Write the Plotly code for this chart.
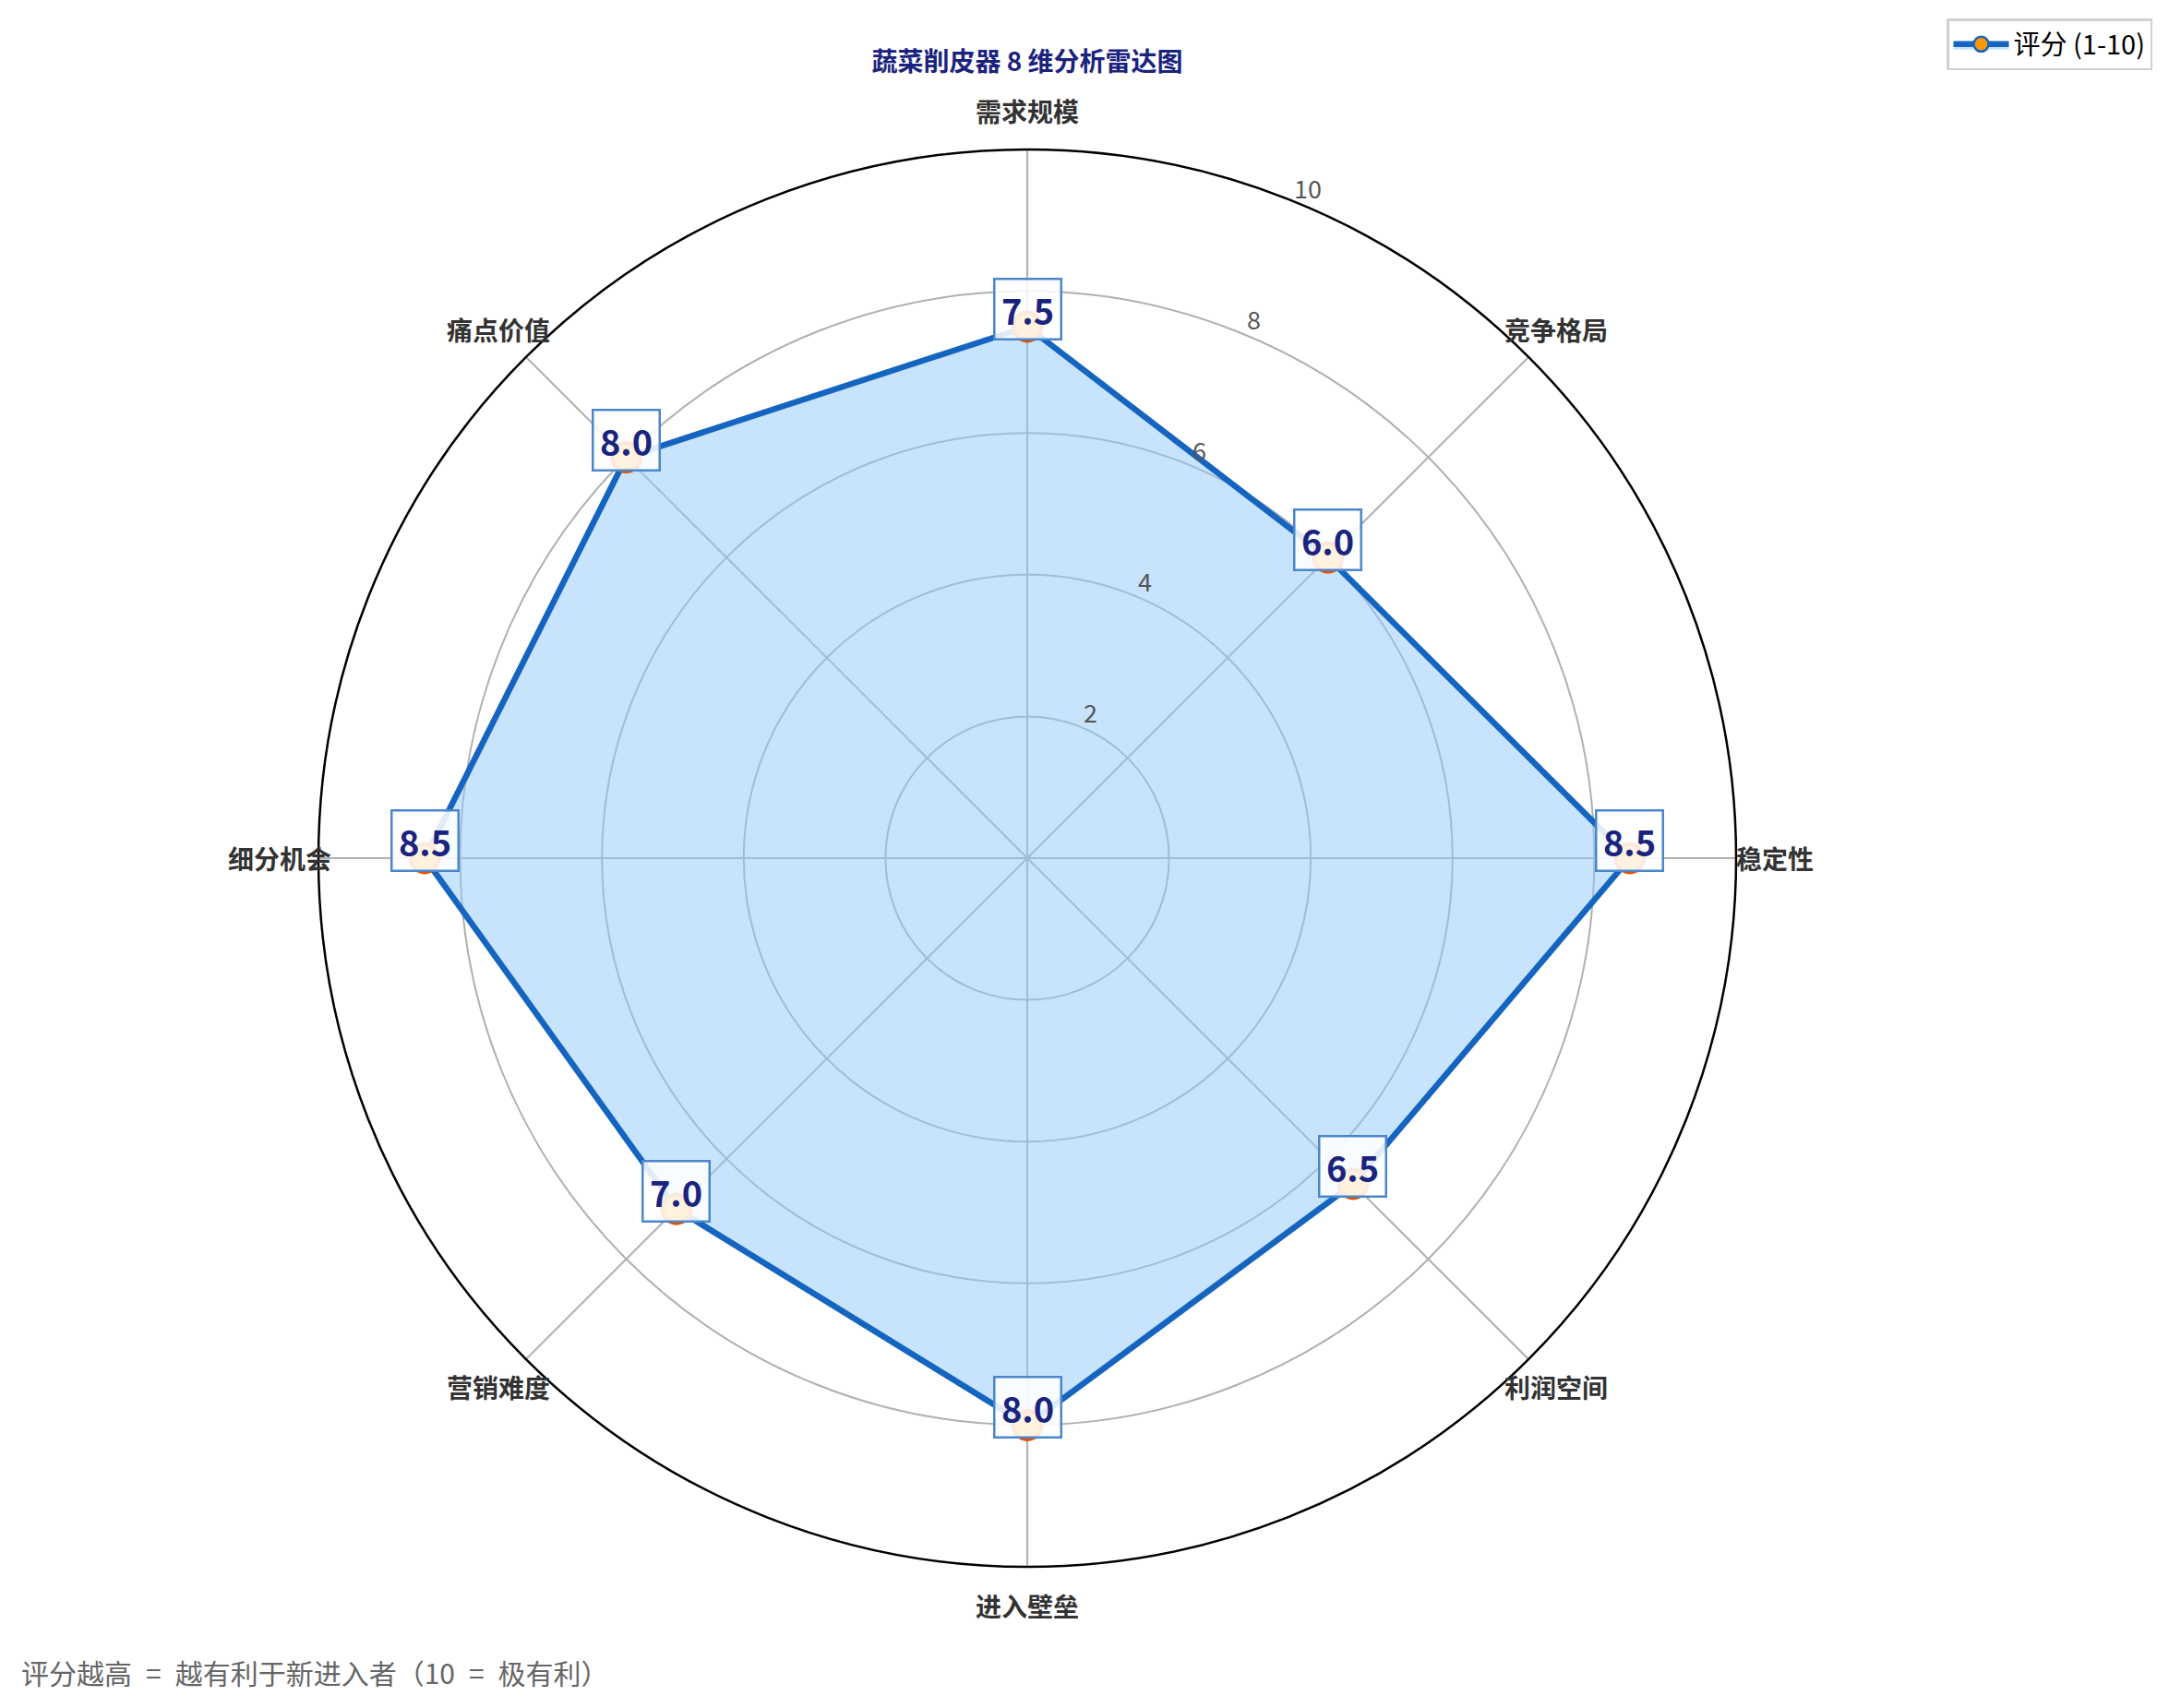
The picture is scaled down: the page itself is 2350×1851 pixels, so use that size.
import numpy as np
import plotly.graph_objects as go

# 8 个维度与评分
dimensions = ["需求规模", "竞争格局", "稳定性", "利润空间", "进入壁垒", "营销难度", "细分机会", "痛点价值"]
scores = [7.5, 6.0, 8.5, 6.5, 8.0, 7.0, 8.5, 8.0]
radial_ticks = [2, 4, 6, 8, 10]

title_text = "蔬菜削皮器 8 维分析雷达图"
legend_name = "评分 (1-10)"
note_text = "评分越高 = 越有利于新进入者（10 = 极有利）"

FONT = "Noto Sans CJK SC, Noto Sans, sans-serif"
W, H = 2350, 1851
OFF = 8                      # default <body> margin of the html page
FW, FH = W - 2 * OFF, H - 2 * OFF


def px_x(x):
    return (x - OFF) / FW


def px_y(y):
    return 1 - (y - OFF) / FH


# polar area: circle centred at (1113, 930) px on the page, radius 768 px
CX, CY, R = 1113, 930, 768
dom_x = [px_x(CX - R), px_x(CX + R)]
dom_y = [px_y(CY + R), px_y(CY - R)]

# cartesian overlay (same centre and scale, a bit wider so outer labels stay in range)
EXT = 11.5
ov_x = [px_x(CX - R * EXT / 10), px_x(CX + R * EXT / 10)]
ov_y = [px_y(CY + R * EXT / 10), px_y(CY - R * EXT / 10)]

theta_closed = dimensions + [dimensions[0]]
r_closed = scores + [scores[0]]

fig = go.Figure()

# filled polygon + legend entry
fig.add_trace(go.Scatterpolar(
    r=r_closed, theta=theta_closed, mode="lines+markers",
    fill="toself", fillcolor="rgba(144,202,249,0.5)",
    line=dict(color="#1565c0", width=6.5),
    marker=dict(size=16, color="#ff9800", line=dict(color="#1565c0", width=2.5)),
    name=legend_name, hoverinfo="skip",
))

# emphasised points on top
fig.add_trace(go.Scatterpolar(
    r=scores, theta=dimensions, mode="markers",
    marker=dict(size=31, color="#ff9800", line=dict(color="#e65100", width=4)),
    showlegend=False, hoverinfo="skip",
))

# invisible cartesian overlay used to place the texts
fig.add_trace(go.Scatter(x=[None], y=[None], xaxis="x", yaxis="y",
                         showlegend=False, hoverinfo="skip"))

angles = np.deg2rad(90 - np.arange(len(dimensions)) * 360 / len(dimensions))

# value boxes
for v, a in zip(scores, angles):
    fig.add_annotation(
        x=v * np.cos(a), y=v * np.sin(a), xref="x", yref="y",
        text=f"\u200a<b>{v:.1f}</b>\u200a", showarrow=False, yshift=19,
        font=dict(family=FONT, size=38, color="#1a237e"),
        bgcolor="rgba(255,255,255,0.87)", bordercolor="#4a86cc",
        borderwidth=2.5, borderpad=4,
    )

# category labels just outside the outer ring
for name, a in zip(dimensions, angles):
    fig.add_annotation(
        x=10.55 * np.cos(a), y=10.55 * np.sin(a), xref="x", yref="y",
        text=f"<b>{name}</b>", showarrow=False,
        font=dict(family=FONT, size=28, color="#333333"),
    )

# radial tick labels along the 67.5 degree direction
ra = np.deg2rad(67.5)
for t in radial_ticks:
    fig.add_annotation(
        x=t * np.cos(ra), y=t * np.sin(ra), xref="x", yref="y",
        text=str(t), showarrow=False, xshift=10, yshift=17,
        font=dict(family=FONT, size=27, color="#555555"),
    )

fig.add_annotation(
    x=px_x(21), y=px_y(1812), xref="paper", yref="paper",
    xanchor="left", yanchor="middle", showarrow=False,
    text=note_text.replace(" = ", "\u2002=\u2002"),
    font=dict(family=FONT, size=30, color="#666666"),
)

fig.update_layout(
    width=FW, height=FH,
    margin=dict(l=0, r=0, t=0, b=0),
    paper_bgcolor="white", plot_bgcolor="white",
    font=dict(family=FONT),
    title=dict(text=f"<b>{title_text}</b>", x=px_x(CX), y=px_y(67),
               xanchor="center", yanchor="middle",
               font=dict(family=FONT, size=28, color="#1a237e")),
    polar=dict(
        domain=dict(x=dom_x, y=dom_y),
        bgcolor="white",
        angularaxis=dict(
            direction="clockwise", rotation=90,
            showline=True, linecolor="black", linewidth=2.5,
            gridcolor="#b0b0b0", gridwidth=1.5, ticks="",
            showticklabels=False,
        ),
        radialaxis=dict(
            range=[0, 10], tickvals=radial_ticks, showline=False,
            gridcolor="#b0b0b0", gridwidth=1.5, ticks="",
            showticklabels=False,
        ),
    ),
    xaxis=dict(domain=ov_x, range=[-EXT, EXT], visible=False, fixedrange=True),
    yaxis=dict(domain=ov_y, range=[-EXT, EXT], visible=False, fixedrange=True),
    legend=dict(x=px_x(2332), y=px_y(20), xanchor="right", yanchor="top",
                bordercolor="#d0d0d0", borderwidth=2.5, bgcolor="white",
                itemwidth=60,
                font=dict(family=FONT, size=29, color="black")),
)

fig.write_html("out.html")
